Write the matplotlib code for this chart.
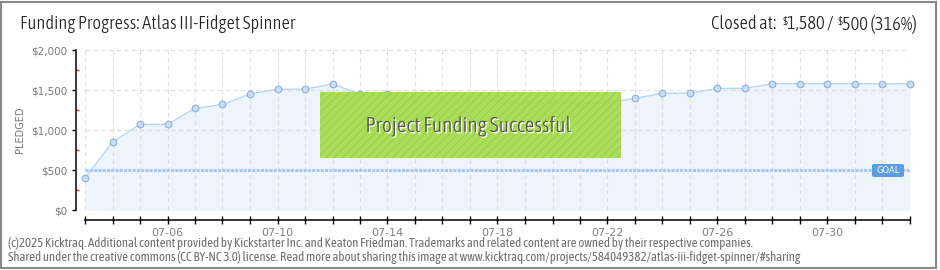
import matplotlib
matplotlib.use("Agg")
import matplotlib.pyplot as plt
import matplotlib.patheffects as pe
from matplotlib.patches import Rectangle, FancyBboxPatch
from matplotlib.ticker import FixedLocator
import numpy as np

plt.rcParams['font.family'] = ['DejaVu Sans']
COND = ['Asap Condensed', 'Archivo Narrow', 'DejaVu Sans']

# ── data ─────────────────────────────────────────────────────────────
dates = ["07-03", "07-04", "07-05", "07-06", "07-07", "07-08", "07-09", "07-10",
         "07-11", "07-12", "07-13", "07-14", "07-15", "07-16", "07-17", "07-18",
         "07-19", "07-20", "07-21", "07-22", "07-23", "07-24", "07-25", "07-26",
         "07-27", "07-28", "07-29", "07-30", "07-31", "08-01", "08-02"]
pledged = [400, 850, 1070, 1070, 1270, 1320, 1450, 1510, 1510, 1575, 1450,
           1450, 1390, 1385, 1395, 1395, 1340, 1340, 1340, 1340, 1395, 1460,
           1460, 1520, 1520, 1580, 1580, 1580, 1580, 1575, 1580]
tick_labels = ["07-06", "07-10", "07-14", "07-18", "07-22", "07-26", "07-30"]
y_ticks = [0, 500, 1000, 1500, 2000]
y_labels = ["$0", "$500", "$1,000", "$1,500", "$2,000"]
goal = 500

W, H = 940, 270
fig = plt.figure(figsize=(W / 100, H / 100), dpi=100)
fig.patch.set_facecolor("white")

def px(x, y):
    return x / W, 1 - y / H

x = np.arange(len(pledged))
L, R, T, B = 76, 910, 50, 210
ax = fig.add_axes([L / W, 1 - B / H, (R - L) / W, (B - T) / H])
ax.set_facecolor("none")
step = (R - 85) / (len(x) - 1)
ax.set_xlim(-(85 - L) / step, len(x) - 1)
ax.set_ylim(0, 2000)

# grid
for xi in x:
    ax.plot([xi, xi], [0, 2000], color="#dedede", lw=0.8, dashes=(4, 3), zorder=1)
for yv in y_ticks:
    ax.plot([0, x[-1]], [yv, yv], color="#dedede", lw=0.8, dashes=(4, 3), zorder=1)

# area + line + markers
ax.fill_between(x, 0, pledged, color="#edf4fc", zorder=0.5, lw=0)
ax.plot(x, pledged, color="#b8d6f3", lw=1, zorder=3)
ax.plot(x, pledged, "o", ms=4.8, mfc="#c6ddf8", mec="#8fb1d8", mew=0.8,
        zorder=4, clip_on=False)

# goal line
ax.plot([0, x[-1]], [goal, goal], color="#a9c9ee", lw=2.2, dashes=(1, 0.4),
        zorder=3)

# spines / ticks
for s in ("top", "right"):
    ax.spines[s].set_visible(False)
ax.spines["left"].set_bounds(0, 2000)
ax.spines["bottom"].set_position(("outward", 7.2))
ax.spines["bottom"].set_bounds(0, x[-1])
ax.spines["left"].set_linewidth(1.1)
ax.spines["bottom"].set_linewidth(1.1)

ax.set_yticks(y_ticks)
ax.set_yticklabels(y_labels)
ax.yaxis.set_minor_locator(FixedLocator([250, 750, 1250, 1750]))
ax.tick_params(axis="y", which="major", direction="out", length=3, width=1,
               labelsize=7.5, labelcolor="#777777", pad=3)
ax.tick_params(axis="y", which="minor", direction="in", length=2.5, width=1,
               color="#d62020")

ax.set_xticks(x)
ax.set_xticklabels([d if d in tick_labels else "" for d in dates])
ax.tick_params(axis="x", which="major", direction="inout", length=6, width=1,
               labelsize=8, labelcolor="#808080", pad=3)

fig.text(*px(20, 130), "PLEDGED", rotation=90, ha="center", va="center",
         fontsize=7, color="#777777")

# success banner
fig.patches.append(Rectangle(px(320, 158), 301 / W, 66 / H,
                             transform=fig.transFigure, facecolor="#a6dc4f",
                             edgecolor="#9dd246", lw=0, hatch="////", alpha=0.92,
                             zorder=5))
fig.text(*px(468, 126), "Project Funding Successful", ha="center", va="center",
         fontsize=15.3, color="#555555", zorder=6, family=COND, weight=300,
         path_effects=[pe.withSimplePatchShadow(offset=(1, -1), shadow_rgbFace="white",
                                                 alpha=1)])

# goal label
fig.patches.append(FancyBboxPatch(px(872, 177), 32 / W, 13 / H,
                                  boxstyle="round,pad=0,rounding_size=0.004",
                                  transform=fig.transFigure, facecolor="#5b9de0",
                                  edgecolor="none", zorder=5))
fig.text(*px(888, 170.5), "GOAL", ha="center", va="center", fontsize=6,
         color="white", zorder=6)

# titles
fig.text(*px(20, 24), "Funding Progress: Atlas III-Fidget Spinner", ha="left",
         va="center", fontsize=13.3, color="#222222", family=COND, weight=300)

# right title, built right to left so the small dollar signs sit raised
r = fig.canvas.get_renderer()
pieces = [("Closed at:  ", 13.3, 24), ("$", 8.5, 21), ("1,580 / ", 13.3, 24),
          ("$", 8.5, 21), ("500 (316%)", 13.3, 24)]
xr = 917
for s, fs, yy in reversed(pieces):
    t = fig.text(*px(xr, yy), s.replace("$", "\\$"), ha="right", va="center",
                 fontsize=fs, color="#222222", family=COND, weight=300)
    bb = t.get_window_extent(r)
    xr = bb.x0 - (1 if s == "$" else 0)

# footer
fig.text(*px(8, 243), "(c)2025 Kicktraq. Additional content provided by Kickstarter Inc. "
         "and Keaton Friedman. Trademarks and related content are owned by their "
         "respective companies.", ha="left", va="center", fontsize=9.25, color="#707070",
         family=COND)
fig.text(*px(8, 257), "Shared under the creative commons (CC BY-NC 3.0) license. Read more "
         "about sharing this image at www.kicktraq.com/projects/584049382/"
         "atlas-iii-fidget-spinner/#sharing", ha="left", va="center", fontsize=9.25,
         color="#707070", family=COND)

# frame
fig.patches.append(Rectangle((1 / W, 2 / H), 935 / W, 266 / H,
                             transform=fig.transFigure, fill=False,
                             edgecolor="#888888", lw=1.5))

fig.savefig("out.png", dpi=100)
